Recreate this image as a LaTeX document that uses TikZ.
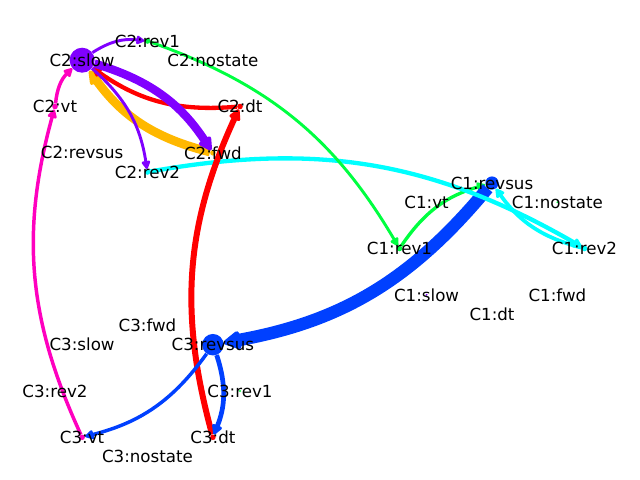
\documentclass[tikz,border=0pt]{standalone}
\usepackage{fontspec}
\setmainfont{DejaVu Sans}
\usetikzlibrary{arrows.meta}
\pgfdeclarelayer{edges}
\pgfsetlayers{edges,main}
\definecolor{cpur}{HTML}{8000FF}
\definecolor{corg}{HTML}{FFB800}
\definecolor{cred}{HTML}{FF0000}
\definecolor{cmag}{HTML}{FF00BF}
\definecolor{cgrn}{HTML}{00FF40}
\definecolor{ccyn}{HTML}{00FFFF}
\definecolor{cblu}{HTML}{0040FF}
\tikzset{
  mk/.style={circle, inner sep=0pt, draw=none, minimum size=#1},
  mk/.default=3pt,
  lbl/.style={inner sep=0pt, font=\fontsize{12pt}{14pt}\selectfont, text=black},
  ed/.style={-{Triangle[length=4.5pt 1.1, width=4.5pt 1.1, round]}, bend left=20},
}
\begin{document}
\begin{tikzpicture}[x=0.72pt,y=-0.72pt]
\useasboundingbox (0,0) rectangle (640,480);
% ---- C2 cluster
\node[mk=18pt, fill=cpur] (c2slow) at (82.1,60.2) {};
\node[mk=4pt, fill=cgrn] (c2rev1) at (147.5,41) {};
\node[mk=2pt] (c2nostate) at (212.9,60.2) {};
\node[mk=4pt, fill=cmag] (c2vt) at (55,106.5) {};
\node[mk=4pt, fill=cred] (c2dt) at (240,106.5) {};
\node[mk=2pt] (c2revsus) at (82.1,152.8) {};
\node[mk=4pt, fill=ccyn] (c2rev2) at (147.5,172) {};
\node[mk=4pt, fill=corg] (c2fwd) at (212.9,152.8) {};
% ---- C1 cluster
\node[mk=4pt, fill=ccyn] (c1rev2) at (584.5,248.5) {};
\node[mk=1.5pt, fill=cgrn] (c1nostate) at (557.4,202.2) {};
\node[mk=9.5pt, fill=cblu] (c1revsus) at (492,183) {};
\node[mk=2pt] (c1vt) at (426.6,202.2) {};
\node[mk=4pt, fill=cgrn] (c1rev1) at (399.5,248.5) {};
\node[mk=1.5pt, fill=cpur] (c1slow) at (426.6,294.8) {};
\node[mk=2pt] (c1dt) at (492,314) {};
\node[mk=2pt] (c1fwd) at (557.4,294.8) {};
% ---- C3 cluster
\node[mk=1.5pt, fill=cgrn] (c3rev1) at (240,391) {};
\node[mk=15.5pt, fill=cblu] (c3revsus) at (212.9,344.7) {};
\node[mk=2pt] (c3fwd) at (147.5,325.5) {};
\node[mk=2pt] (c3slow) at (82.1,344.7) {};
\node[mk=2pt] (c3rev2) at (55,391) {};
\node[mk=4pt, fill=cmag] (c3vt) at (82.1,437.3) {};
\node[mk=2pt] (c3nostate) at (147.5,456.5) {};
\node[mk=4pt, fill=cred] (c3dt) at (212.9,437.3) {};
% ---- edges
\begin{pgfonlayer}{edges}
\draw[ed, corg, line width=6.3pt] (c2fwd) to (c2slow);
\draw[ed, cred, line width=3.1pt] (c2dt) to (c2slow);
\draw[ed, cpur, line width=6pt] (c2slow) to (c2fwd);
\draw[ed, cpur, line width=2.1pt] (c2slow) to (c2rev1);
\draw[ed, cpur, line width=2.1pt] (c2slow) to (c2rev2);
\draw[ed, cmag, line width=2.5pt] (c3vt) to (c2vt);
\draw[ed, cmag, line width=2.5pt] (c2vt) to (c2slow);
\draw[ed, cgrn, line width=2.4pt] (c1rev1) to (c1revsus);
\draw[ed, cblu, line width=9pt] (c1revsus) to (c3revsus);
\draw[ed, ccyn, line width=3.1pt] (c2rev2) to (c1rev2);
\draw[ed, ccyn, line width=2.7pt] (c1rev2) to (c1revsus);
\draw[ed, cgrn, line width=2.1pt] (c2rev1) to (c1rev1);
\draw[ed, cred, line width=4.3pt] (c3dt) to (c2dt);
\draw[ed, cblu, line width=2.5pt] (c3revsus) to (c3vt);
\draw[ed, cblu, line width=3.4pt] (c3revsus) to (c3dt);
\end{pgfonlayer}
% ---- labels
\node[lbl] (l-c2slow) at (c2slow) {C2:slow};
\node[lbl] (l-c2rev1) at (c2rev1) {C2:rev1};
\node[lbl] (l-c2nostate) at (c2nostate) {C2:nostate};
\node[lbl] (l-c2vt) at (c2vt) {C2:vt};
\node[lbl] (l-c2dt) at (c2dt) {C2:dt};
\node[lbl] (l-c2revsus) at (c2revsus) {C2:revsus};
\node[lbl] (l-c2rev2) at (c2rev2) {C2:rev2};
\node[lbl] (l-c2fwd) at (c2fwd) {C2:fwd};
\node[lbl] (l-c1rev2) at (c1rev2) {C1:rev2};
\node[lbl] (l-c1nostate) at (c1nostate) {C1:nostate};
\node[lbl] (l-c1revsus) at (c1revsus) {C1:revsus};
\node[lbl] (l-c1vt) at (c1vt) {C1:vt};
\node[lbl] (l-c1rev1) at (c1rev1) {C1:rev1};
\node[lbl] (l-c1slow) at (c1slow) {C1:slow};
\node[lbl] (l-c1dt) at (c1dt) {C1:dt};
\node[lbl] (l-c1fwd) at (c1fwd) {C1:fwd};
\node[lbl] (l-c3rev1) at (c3rev1) {C3:rev1};
\node[lbl] (l-c3revsus) at (c3revsus) {C3:revsus};
\node[lbl] (l-c3fwd) at (c3fwd) {C3:fwd};
\node[lbl] (l-c3slow) at (c3slow) {C3:slow};
\node[lbl] (l-c3rev2) at (c3rev2) {C3:rev2};
\node[lbl] (l-c3vt) at (c3vt) {C3:vt};
\node[lbl] (l-c3nostate) at (c3nostate) {C3:nostate};
\node[lbl] (l-c3dt) at (c3dt) {C3:dt};
\end{tikzpicture}
\end{document}
